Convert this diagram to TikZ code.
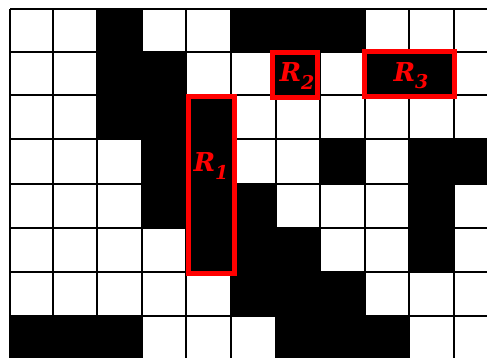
\documentclass[tikz,border=0pt]{standalone}
\usepackage{fontspec}
\newfontfamily\labelfont{DejaVu Serif}
\newcommand{\rlab}[1]{{\labelfont\bfseries\itshape R\raisebox{-0.28em}{\fontsize{19}{20}\selectfont #1}}}
\begin{document}
\begin{tikzpicture}[x={(1pt,0)},y={(0,-1pt)},
  gridline/.style={draw=black,line width=1.6pt},
  region/.style={draw=red,line width=5pt},
  rlabel/.style={text=red,inner sep=0pt,font=\fontsize{26}{28}\selectfont}]
\useasboundingbox (0,0) rectangle (487,358);
\clip (0,0) rectangle (487,358);
\fill[white] (0,0) rectangle (487,358);
\def\xs{{10,53,97,142,186,231,276,320,365,409,454,498}}
\def\ys{{9,52,95,139,184,228,272,316,360}}
% black cells: col/row
\foreach \c/\r in {2/0,5/0,6/0,7/0,
                   2/1,3/1,6/1,8/1,9/1,
                   2/2,3/2,4/2,
                   3/3,4/3,7/3,9/3,10/3,
                   3/4,4/4,5/4,9/4,
                   4/5,5/5,6/5,9/5,
                   5/6,6/6,7/6,
                   0/7,1/7,2/7,6/7,7/7,8/7}{
  \pgfmathsetmacro\xa{\xs[\c]}
  \pgfmathsetmacro\xb{\xs[\c+1]}
  \pgfmathsetmacro\ya{\ys[\r]}
  \pgfmathsetmacro\yb{\ys[\r+1]}
  \fill[black] (\xa,\ya) rectangle (\xb,\yb);
}
% grid lines
\foreach \i in {0,...,11}{
  \pgfmathsetmacro\xa{\xs[\i]}
  \draw[gridline] (\xa,9) -- (\xa,365);
}
\foreach \j in {0,...,8}{
  \pgfmathsetmacro\ya{\ys[\j]}
  \draw[gridline] (10,\ya) -- (495,\ya);
}
% red regions
\draw[region] (188,96.5) rectangle (234.5,273.5);
\draw[region] (272.5,52.5) rectangle (317.5,97.5);
\draw[region] (364.5,51.5) rectangle (454.5,96.5);
\node[rlabel] (r1) at (211,166) {\rlab{1}};
\node[rlabel] (r2) at (297,76) {\rlab{2}};
\node[rlabel] (r3) at (411,76) {\rlab{3}};
\end{tikzpicture}
\end{document}
